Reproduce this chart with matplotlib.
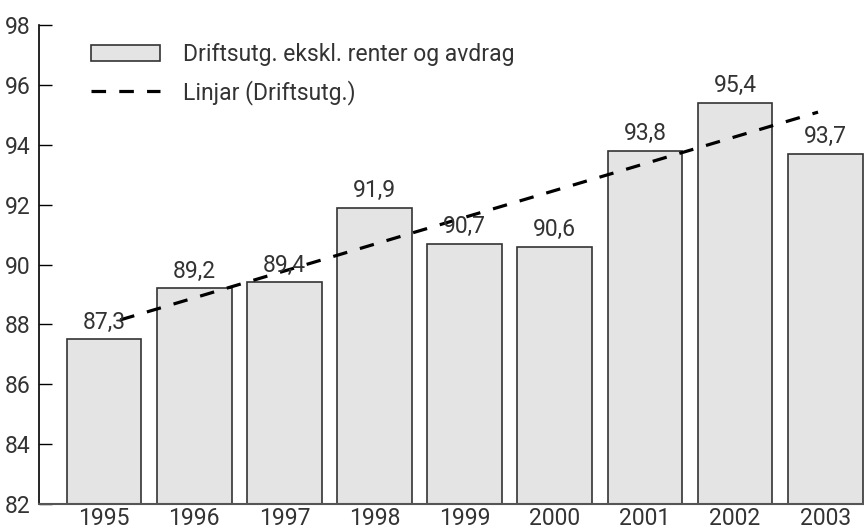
import matplotlib
matplotlib.use("Agg")
import matplotlib.pyplot as plt
from matplotlib.patches import Patch
from matplotlib.lines import Line2D

plt.rcParams['font.family'] = ['Roboto', 'DejaVu Sans']
plt.rcParams['lines.scale_dashes'] = False

years = ["1995", "1996", "1997", "1998", "1999", "2000", "2001", "2002", "2003"]
values = [87.5, 89.2, 89.4, 91.9, 90.7, 90.6, 93.8, 95.4, 93.7]
value_labels = ["87,3", "89,2", "89,4", "91,9", "90,7", "90,6", "93,8", "95,4", "93,7"]
trend_x = [0.18, 7.92]
trend_y = [88.15, 95.09]
yticks = [82, 84, 86, 88, 90, 92, 94, 96, 98]
bar_label = "Driftsutg. ekskl. renter og avdrag"
trend_label = "Linjar (Driftsutg.)"

text_color = "#333333"
fs = 16.5

fig = plt.figure(figsize=(8.64, 5.32), dpi=100)
ax = fig.add_axes([38.5/864, 1 - 504/532, (864 - 38.5)/864, (504 - 25)/532])

x = list(range(len(years)))
ax.bar(x, values, width=0.83, bottom=0, color="#e4e4e4", edgecolor="#333333",
       linewidth=1.2, zorder=2)
for xi, v, lab in zip(x, values, value_labels):
    ax.annotate(lab, (xi, v), xytext=(0, 4), textcoords="offset points",
                ha="center", va="bottom", fontsize=fs, color=text_color, zorder=4)

ax.plot(trend_x, trend_y, color="black", linewidth=2.3, dashes=(10.5, 9.5), zorder=3)

ax.set_ylim(82, 98)
ax.set_xlim(-0.727, 8.43)
ax.set_yticks(yticks)
ax.set_yticklabels([str(t) for t in yticks])
ax.set_xticks(x)
ax.set_xticklabels(years)
ax.tick_params(axis="y", direction="in", length=9, width=1, color="black",
               labelsize=fs, labelcolor=text_color, pad=6)
ax.tick_params(axis="x", length=0, labelsize=fs, labelcolor=text_color, pad=2)

for s in ["top", "right"]:
    ax.spines[s].set_visible(False)
ax.spines["left"].set_color("black")
ax.spines["left"].set_linewidth(1.2)
ax.spines["bottom"].set_color("#555555")
ax.spines["bottom"].set_linewidth(1.5)
ax.spines["bottom"].set_zorder(5)

handles = [
    Patch(facecolor="#e4e4e4", edgecolor="#333333", linewidth=1.2, label=bar_label),
    Line2D([0], [0], color="black", linewidth=2.3, dashes=(10.5, 9.5), label=trend_label),
]
leg = ax.legend(handles=handles, loc="upper left", bbox_to_anchor=(82/864, 1 - 34/532),
                bbox_transform=fig.transFigure, frameon=False, fontsize=fs,
                handlelength=3.0, handleheight=0.65, handletextpad=1.0, labelspacing=0.6,
                borderaxespad=0, borderpad=0.4)
for t in leg.get_texts():
    t.set_color(text_color)

fig.text(95/864, 1 + 13/532, "g", fontsize=fs, fontweight="bold", color="black",
         ha="left", va="baseline")

fig.savefig("out.png", dpi=100)
